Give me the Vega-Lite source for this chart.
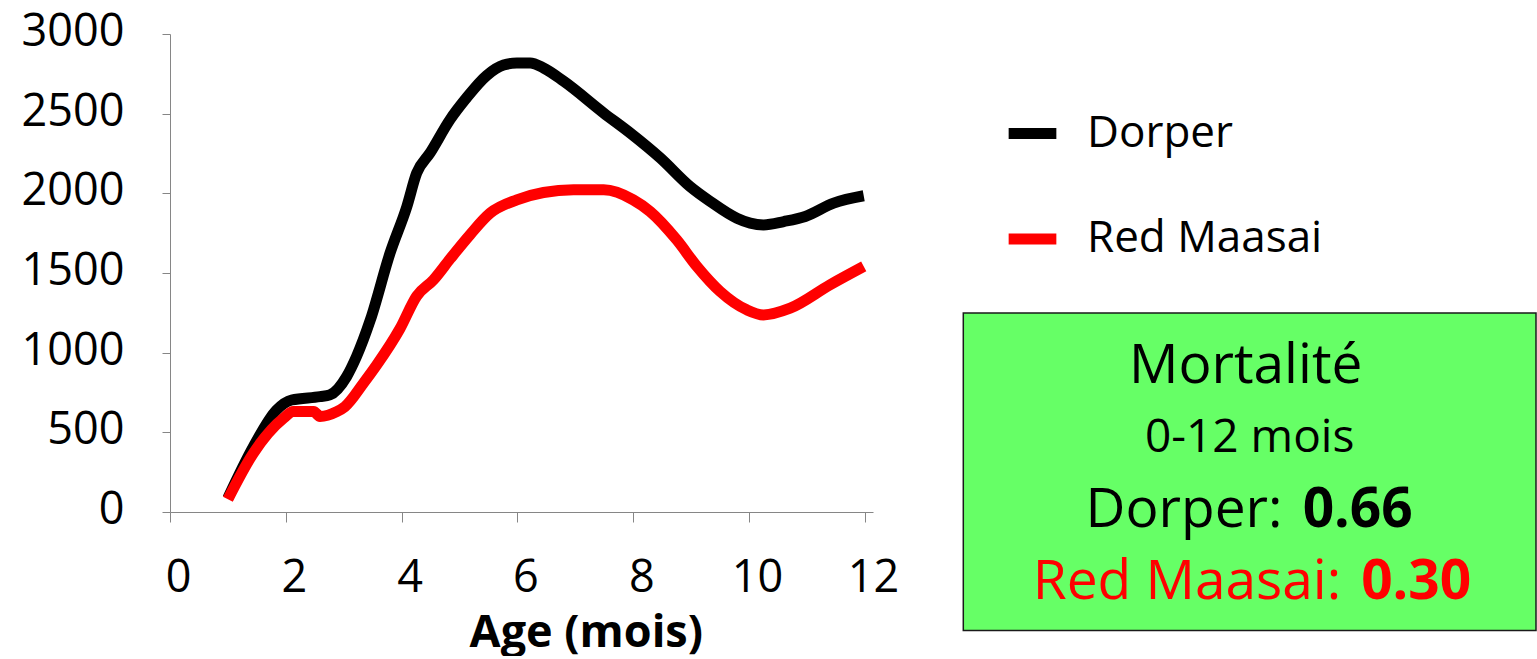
{
  "$schema": "https://vega.github.io/schema/vega-lite/v6.json",
  "background": "white",
  "padding": {"left": 21, "top": 9, "right": 0, "bottom": 0},
  "bounds": "flush",
  "spacing": 90.3,
  "config": {"view": {"stroke": null}, "font": "Open Sans"},
  "datasets": {
    "poids": [
      {"race": "Dorper", "age": 1.0, "valeur": 88},
      {"race": "Dorper", "age": 1.44, "valeur": 410},
      {"race": "Dorper", "age": 1.84, "valeur": 640},
      {"race": "Dorper", "age": 2.1, "valeur": 703},
      {"race": "Dorper", "age": 2.59, "valeur": 724},
      {"race": "Dorper", "age": 2.76, "valeur": 735},
      {"race": "Dorper", "age": 3.05, "valeur": 850},
      {"race": "Dorper", "age": 3.22, "valeur": 975},
      {"race": "Dorper", "age": 3.46, "valeur": 1206},
      {"race": "Dorper", "age": 3.8, "valeur": 1625},
      {"race": "Dorper", "age": 4.09, "valeur": 1917},
      {"race": "Dorper", "age": 4.26, "valeur": 2127},
      {"race": "Dorper", "age": 4.49, "valeur": 2253},
      {"race": "Dorper", "age": 4.84, "valeur": 2465},
      {"race": "Dorper", "age": 5.1, "valeur": 2590},
      {"race": "Dorper", "age": 5.47, "valeur": 2740},
      {"race": "Dorper", "age": 5.76, "valeur": 2805},
      {"race": "Dorper", "age": 5.99, "valeur": 2818},
      {"race": "Dorper", "age": 6.22, "valeur": 2818},
      {"race": "Dorper", "age": 6.45, "valeur": 2787},
      {"race": "Dorper", "age": 6.8, "valeur": 2703},
      {"race": "Dorper", "age": 7.49, "valeur": 2504},
      {"race": "Dorper", "age": 7.95, "valeur": 2378},
      {"race": "Dorper", "age": 8.47, "valeur": 2221},
      {"race": "Dorper", "age": 8.98, "valeur": 2043},
      {"race": "Dorper", "age": 9.33, "valeur": 1949},
      {"race": "Dorper", "age": 9.79, "valeur": 1844},
      {"race": "Dorper", "age": 10.02, "valeur": 1813},
      {"race": "Dorper", "age": 10.25, "valeur": 1802},
      {"race": "Dorper", "age": 10.6, "valeur": 1823},
      {"race": "Dorper", "age": 10.97, "valeur": 1855},
      {"race": "Dorper", "age": 11.46, "valeur": 1939},
      {"race": "Dorper", "age": 11.98, "valeur": 1985},
      {"race": "Red Maasai", "age": 1.0, "valeur": 80},
      {"race": "Red Maasai", "age": 1.44, "valeur": 369},
      {"race": "Red Maasai", "age": 1.96, "valeur": 588},
      {"race": "Red Maasai", "age": 2.13, "valeur": 630},
      {"race": "Red Maasai", "age": 2.48, "valeur": 630},
      {"race": "Red Maasai", "age": 2.59, "valeur": 600},
      {"race": "Red Maasai", "age": 2.88, "valeur": 630},
      {"race": "Red Maasai", "age": 3.02, "valeur": 661},
      {"race": "Red Maasai", "age": 3.34, "valeur": 808},
      {"race": "Red Maasai", "age": 3.57, "valeur": 923},
      {"race": "Red Maasai", "age": 3.97, "valeur": 1150},
      {"race": "Red Maasai", "age": 4.26, "valeur": 1355},
      {"race": "Red Maasai", "age": 4.55, "valeur": 1457},
      {"race": "Red Maasai", "age": 4.84, "valeur": 1590},
      {"race": "Red Maasai", "age": 5.18, "valeur": 1740},
      {"race": "Red Maasai", "age": 5.53, "valeur": 1876},
      {"race": "Red Maasai", "age": 5.99, "valeur": 1959},
      {"race": "Red Maasai", "age": 6.45, "valeur": 2005},
      {"race": "Red Maasai", "age": 6.97, "valeur": 2022},
      {"race": "Red Maasai", "age": 7.49, "valeur": 2022},
      {"race": "Red Maasai", "age": 8.0, "valeur": 1959},
      {"race": "Red Maasai", "age": 8.29, "valeur": 1886},
      {"race": "Red Maasai", "age": 8.75, "valeur": 1708},
      {"race": "Red Maasai", "age": 9.1, "valeur": 1541},
      {"race": "Red Maasai", "age": 9.5, "valeur": 1384},
      {"race": "Red Maasai", "age": 9.96, "valeur": 1269},
      {"race": "Red Maasai", "age": 10.25, "valeur": 1237},
      {"race": "Red Maasai", "age": 10.71, "valeur": 1279},
      {"race": "Red Maasai", "age": 11.4, "valeur": 1426},
      {"race": "Red Maasai", "age": 11.98, "valeur": 1541}
    ],
    "encart": [
      {"ligne": "Mortalité", "texte": "Mortalité"},
      {"ligne": "0-12 mois", "texte": "0-12 mois"},
      {"ligne": "Dorper", "texte": "Dorper:", "taux": 0.66},
      {"ligne": "Red Maasai", "texte": "Red Maasai:", "taux": 0.30}
    ]
  },
  "hconcat": [
    {
      "width": 703,
      "height": 478,
      "data": {"name": "poids"},
      "mark": {"type": "line", "strokeWidth": 11, "strokeCap": "butt", "strokeJoin": "round", "interpolate": "monotone"},
      "encoding": {
        "x": {
          "field": "age", "type": "quantitative",
          "scale": {"domain": [0, 12.14], "nice": false, "zero": false},
          "axis": {
            "values": [0, 2, 4, 6, 8, 10, 12], "format": "d",
            "title": "Age (mois)", "titleFont": "Open Sans", "titleFontSize": 45, "titleFontWeight": "bold", "titleColor": "#000000",
            "titleX": 415.8, "titleY": 134.5, "titleBaseline": "alphabetic", "titleAlign": "center",
            "labelFont": "Open Sans", "labelFontSize": 45, "labelColor": "#000000", "labelPadding": 33.5, "labelOffset": 8,
            "labelFlush": false, "labelOverlap": false, "labelBound": false,
            "tickSize": 10, "tickColor": "#868686", "domainColor": "#868686", "domainWidth": 1, "tickWidth": 1, "grid": false
          }
        },
        "y": {
          "field": "valeur", "type": "quantitative",
          "scale": {"domain": [0, 3000], "nice": false},
          "axis": {
            "values": [0, 500, 1000, 1500, 2000, 2500, 3000], "format": "d",
            "title": null,
            "labelFont": "Open Sans", "labelFontSize": 45, "labelColor": "#000000", "labelPadding": 38, "labelOffset": -2.5,
            "labelFlush": false, "labelOverlap": false, "labelBound": false,
            "tickSize": 8, "tickColor": "#868686", "domainColor": "#868686", "domainWidth": 1, "tickWidth": 1, "grid": false
          }
        },
        "color": {
          "field": "race", "type": "nominal",
          "scale": {"domain": ["Dorper", "Red Maasai"], "range": ["#000000", "#ff0000"]},
          "legend": {
            "orient": "none", "legendX": 833, "legendY": 70, "title": null, "padding": 0,
            "symbolType": "stroke", "symbolStrokeWidth": 11, "symbolSize": 2275,
            "labelFont": "Open Sans", "labelFontSize": 44, "labelColor": "#000000", "labelLimit": 400,
            "labelOffset": 25, "rowPadding": 53.5
          }
        }
      }
    },
    {
      "spacing": 0,
      "bounds": "flush",
      "vconcat": [
        {"width": 572.7, "height": 279, "data": {"values": []}, "mark": "text"},
        {
          "width": 572.7,
          "height": 317.4,
          "view": {"fill": "#66ff66", "stroke": "#1a1a1a", "strokeWidth": 1.5},
          "data": {"name": "encart"},
          "encoding": {
            "y": {
              "field": "ligne", "type": "ordinal",
              "scale": {"type": "point", "domain": ["Mortalité", "0-12 mois", "Dorper", "Red Maasai"], "padding": 0.7024, "align": 0.526},
              "axis": null
            }
          },
          "layer": [
            {
              "transform": [{"filter": "datum.ligne === 'Mortalité'"}],
              "mark": {"type": "text", "font": "Open Sans", "fontSize": 55, "color": "#000000", "baseline": "middle", "align": "center", "dx": -4},
              "encoding": {"text": {"field": "texte"}}
            },
            {
              "transform": [{"filter": "datum.ligne === '0-12 mois'"}],
              "mark": {"type": "text", "font": "Open Sans", "fontSize": 46, "color": "#000000", "baseline": "middle", "align": "center"},
              "encoding": {"text": {"field": "texte"}}
            },
            {
              "transform": [{"filter": "datum.ligne === 'Dorper'"}],
              "mark": {"type": "text", "font": "Open Sans", "fontSize": 55, "color": "#000000", "baseline": "middle", "align": "right", "dx": 32.8},
              "encoding": {"text": {"field": "texte"}}
            },
            {
              "transform": [{"filter": "datum.ligne === 'Dorper'"}],
              "mark": {"type": "text", "font": "Open Sans", "fontSize": 55, "fontWeight": "bold", "color": "#000000", "baseline": "middle", "align": "left", "dx": 53},
              "encoding": {"text": {"field": "taux", "type": "quantitative", "format": ".2f"}}
            },
            {
              "transform": [{"filter": "datum.ligne === 'Red Maasai'"}],
              "mark": {"type": "text", "font": "Open Sans", "fontSize": 55, "color": "#ff0000", "baseline": "middle", "align": "right", "dx": 91.5},
              "encoding": {"text": {"field": "texte"}}
            },
            {
              "transform": [{"filter": "datum.ligne === 'Red Maasai'"}],
              "mark": {"type": "text", "font": "Open Sans", "fontSize": 55, "fontWeight": "bold", "color": "#ff0000", "baseline": "middle", "align": "left", "dx": 111.5},
              "encoding": {"text": {"field": "taux", "type": "quantitative", "format": ".2f"}}
            }
          ]
        }
      ]
    }
  ]
}
